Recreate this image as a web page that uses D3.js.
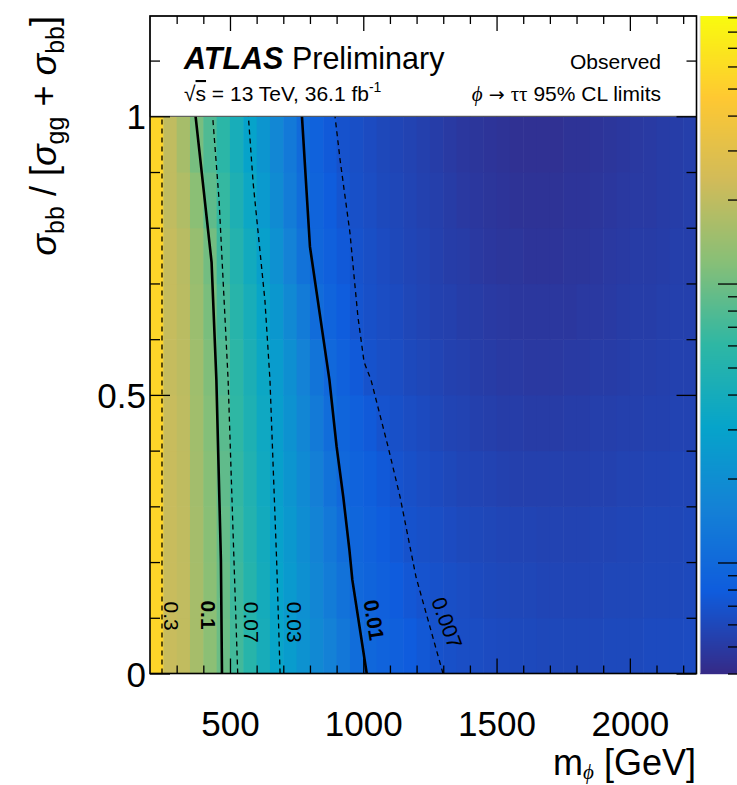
<!DOCTYPE html>
<html><head><meta charset="utf-8">
<script src="https://cdn.jsdelivr.net/npm/d3@7"></script>
<style>
html,body{margin:0;padding:0;background:#fff;}
svg{display:block;font-family:"Liberation Sans",Arial,Helvetica,sans-serif;}
</style>
</head><body>
<svg id="chart" width="737" height="785"></svg>
<script>
// ---------------- DATA ----------------
// mass bin centres (GeV), bin width 50 GeV
const massCenters = [225,275,325,375,425,475,525,575,625,675,725,775,825,875,925,975,1025,1075,1125,1175,1225,1275,1325,1375,1425,1475,1525,1575,1625,1675,1725,1775,1825,1875,1925,1975,2025,2075,2125,2175,2225];
// sigma_bb fraction bin centres (bin width 0.1)
const fractionCenters = [0.05,0.15,0.25,0.35,0.45,0.55,0.65,0.75,0.85,0.95];
// observed 95% CL limit values: one array per fraction row, one value per mass bin
const limitsF005 = [0.55,0.215,0.203,0.158,0.124,0.0963,0.0703,0.0538,0.0412,0.0316,0.0261,0.0218,0.0183,0.0154,0.0129,0.0108,0.00964,0.00903,0.00846,0.00792,0.00743,0.0069,0.0067,0.0065,0.0064,0.0063,0.0062,0.0061,0.0061,0.0060,0.0060,0.0060,0.0060,0.0060,0.0061,0.0061,0.0061,0.0062,0.0062,0.0062,0.0063];
const limitsF015 = [0.55,0.215,0.202,0.158,0.123,0.0946,0.0676,0.0519,0.0398,0.0305,0.0251,0.0207,0.0171,0.0141,0.0117,0.00986,0.00917,0.00853,0.00793,0.00738,0.0070,0.0068,0.0066,0.0064,0.0062,0.0061,0.0060,0.0059,0.0059,0.0058,0.0058,0.0058,0.0058,0.0058,0.0059,0.0059,0.0059,0.0060,0.0060,0.0060,0.0061];
const limitsF025 = [0.55,0.215,0.200,0.156,0.121,0.0918,0.0653,0.0500,0.0384,0.0296,0.0241,0.0197,0.0160,0.0131,0.0107,0.00948,0.00876,0.00809,0.00747,0.0069,0.0067,0.0065,0.0063,0.0061,0.0060,0.0059,0.0058,0.0057,0.0057,0.0056,0.0056,0.0056,0.0056,0.0057,0.0057,0.0058,0.0058,0.0059,0.0059,0.0059,0.0060];
const limitsF035 = [0.55,0.215,0.199,0.154,0.119,0.0881,0.0629,0.0482,0.0369,0.0286,0.0230,0.0185,0.0149,0.0119,0.00984,0.00902,0.00828,0.00759,0.0070,0.0067,0.0064,0.0062,0.0060,0.0058,0.0057,0.0056,0.0055,0.0054,0.0054,0.0054,0.0054,0.0054,0.0054,0.0055,0.0055,0.0056,0.0056,0.0057,0.0057,0.0058,0.0058];
const limitsF045 = [0.55,0.215,0.197,0.151,0.116,0.0841,0.0605,0.0463,0.0354,0.0274,0.0217,0.0172,0.0136,0.0107,0.00933,0.00845,0.00766,0.0070,0.0067,0.0064,0.0062,0.0059,0.0057,0.0056,0.0054,0.0053,0.0052,0.0052,0.0051,0.0051,0.0051,0.0052,0.0052,0.0053,0.0053,0.0054,0.0054,0.0055,0.0055,0.0056,0.0056];
const limitsF055 = [0.55,0.21,0.194,0.148,0.113,0.0795,0.0581,0.0443,0.0338,0.0261,0.0203,0.0158,0.0123,0.00978,0.00864,0.00763,0.0069,0.0066,0.0064,0.0061,0.0059,0.0057,0.0055,0.0054,0.0052,0.0051,0.0050,0.0050,0.0049,0.0049,0.0049,0.0050,0.0050,0.0051,0.0051,0.0052,0.0053,0.0053,0.0054,0.0055,0.0055];
const limitsF065 = [0.55,0.21,0.190,0.143,0.108,0.0731,0.0546,0.0415,0.0315,0.0239,0.0182,0.0139,0.0106,0.00906,0.00800,0.00706,0.0067,0.0064,0.0062,0.0059,0.0057,0.0055,0.0054,0.0052,0.0051,0.0050,0.0049,0.0048,0.0048,0.0048,0.0048,0.0048,0.0049,0.0049,0.0050,0.0051,0.0052,0.0052,0.0053,0.0054,0.0054];
const limitsF075 = [0.55,0.21,0.186,0.138,0.102,0.0678,0.0506,0.0378,0.0282,0.0211,0.0158,0.0119,0.00954,0.00850,0.00756,0.0069,0.0066,0.0063,0.0060,0.0058,0.0056,0.0054,0.0052,0.0051,0.0049,0.0048,0.0047,0.0047,0.0046,0.0046,0.0046,0.0047,0.0047,0.0048,0.0049,0.0050,0.0051,0.0051,0.0052,0.0053,0.0053];
const limitsF085 = [0.55,0.20,0.173,0.123,0.0878,0.0632,0.0461,0.0337,0.0251,0.0190,0.0143,0.0108,0.00915,0.00809,0.00715,0.0067,0.0064,0.0061,0.0059,0.0057,0.0055,0.0053,0.0051,0.0049,0.0048,0.0047,0.0046,0.0045,0.0045,0.0045,0.0045,0.0046,0.0046,0.0047,0.0048,0.0049,0.0050,0.0050,0.0051,0.0052,0.0053];
const limitsF095 = [0.55,0.20,0.158,0.106,0.0778,0.0572,0.0416,0.0303,0.0230,0.0175,0.0133,0.0101,0.00875,0.00762,0.0069,0.0066,0.0063,0.0060,0.0058,0.0056,0.0054,0.0052,0.0050,0.0048,0.0047,0.0046,0.0045,0.0044,0.0044,0.0044,0.0044,0.0045,0.0045,0.0046,0.0047,0.0048,0.0049,0.0050,0.0051,0.0052,0.0053];

// contour lines: [mass, fraction]
const contour0p3   = [[245,0],[245,1]];
const contour0p1   = [[470,0],[466,0.203],[449,0.527],[431,0.738],[371,1]];
const contour0p07  = [[529,0],[515,0.203],[493,0.527],[459,0.85],[435,1]];
const contour0p03  = [[688,0],[675,0.203],[650,0.527],[631,0.67],[587,0.88],[569,1]];
const contour0p01  = [[1013,0],[959,0.168],[948,0.222],[925,0.317],[900,0.407],[873,0.527],[800,0.766],[770,1]];
const contour0p007 = [[1299,0],[1198,0.173],[1138,0.317],[1093,0.407],[1029,0.527],[1003,0.559],[980,0.64],[950,0.791],[913,0.922],[894,1]];

// contour labels
const contourLabels = ["0.3","0.1","0.07","0.03","0.01","0.007"];
const contourLabelMass = [279, 418, 579, 740, 1040, 1314];
const contourLabelFrac = [0.103, 0.105, 0.092, 0.092, 0.096, 0.091];

// axis ticks
const xMajorTicks = [500,1000,1500,2000];
const xTickLabels = ["500","1000","1500","2000"];
const xMinorTicks = [300,400,600,700,800,900,1100,1200,1300,1400,1600,1700,1800,1900,2100,2200];
const yMajorTicks = [0,0.5,1];
const yTickLabels = ["0","0.5","1"];
const yMinorTicks = [0.1,0.2,0.3,0.4,0.6,0.7,0.8,0.9,1.1];
const zRange = [0.004, 0.91];
const zMinorTicks = [0.004,0.005,0.006,0.007,0.008,0.009,0.02,0.03,0.04,0.05,0.06,0.07,0.08,0.09,0.2,0.3,0.4,0.5,0.6,0.7,0.8,0.9];
const zMajorTicks = [0.01,0.1];

// ---------------- DRAWING ----------------
const svg = d3.select("#chart");
const fr = {l:150, r:696.5, t:16, b:673.5};
const x = d3.scaleLinear().domain([200,2250]).range([fr.l, fr.r]);
const y = d3.scaleLinear().domain([0,1.18]).range([fr.b, fr.t]);

const tScale = d3.scaleLog().domain(zRange).range([0,1]).clamp(true);
const bird = d3.scaleLinear()
  .domain([0,0.125,0.25,0.375,0.5,0.625,0.75,0.875,1])
  .range(["rgb(53,42,135)","rgb(15,92,221)","rgb(20,129,214)","rgb(6,164,202)","rgb(46,183,164)","rgb(135,191,119)","rgb(209,187,89)","rgb(254,200,50)","rgb(249,251,14)"])
  .interpolate(d3.interpolateRgb);
const color = v => bird(tScale(v));

svg.append("defs").append("clipPath").attr("id","clip")
  .append("rect").attr("x",fr.l).attr("y",fr.t).attr("width",fr.r-fr.l).attr("height",fr.b-fr.t);

// heat map
const rows = [limitsF005,limitsF015,limitsF025,limitsF035,limitsF045,limitsF055,limitsF065,limitsF075,limitsF085,limitsF095];
const cells = [];
rows.forEach((vals,ri)=>vals.forEach((v,ci)=>cells.push({m:massCenters[ci], f:fractionCenters[ri], v})));
const halfM = 25, halfF = 0.05;
svg.append("g").attr("clip-path","url(#clip)").selectAll("rect").data(cells).join("rect")
  .attr("x", d=>x(d.m-halfM))
  .attr("width", d=>x(d.m+halfM)-x(d.m-halfM)+0.6)
  .attr("y", d=>y(d.f+halfF))
  .attr("height", d=>y(d.f-halfF)-y(d.f+halfF)+0.6)
  .attr("fill", d=>color(d.v));

// contours
const line = d3.line().x(d=>x(d[0])).y(d=>y(d[1]));
const contours = [
  {pts:contour0p3, solid:false},
  {pts:contour0p1, solid:true},
  {pts:contour0p07, solid:false},
  {pts:contour0p03, solid:false},
  {pts:contour0p01, solid:true},
  {pts:contour0p007, solid:false}
];
const cg = svg.append("g").attr("clip-path","url(#clip)");
contours.forEach(c=>{
  cg.append("path").attr("d", line(c.pts)).attr("fill","none").attr("stroke","#000")
    .attr("stroke-width", c.solid?2.6:1.3)
    .attr("stroke-dasharray", c.solid?null:"5,4");
});

// contour labels
const labelRot = [90,90,90,90,81,70];
const labelBold = [false,true,false,false,true,false];
contourLabels.forEach((t,i)=>{
  svg.append("text")
    .attr("transform",`translate(${x(contourLabelMass[i])},${y(contourLabelFrac[i])}) rotate(${labelRot[i]})`)
    .attr("text-anchor","middle").attr("dy","0.35em")
    .attr("font-size",21).attr("font-weight",labelBold[i]?"bold":"normal")
    .attr("fill","#000").text(t);
});

// white legend box above fraction = 1
svg.append("rect").attr("x",fr.l).attr("y",fr.t).attr("width",fr.r-fr.l).attr("height",y(1)-fr.t)
  .attr("fill","#fff").attr("stroke","#444").attr("stroke-width",1);

// texts in box
const t1 = svg.append("text").attr("x",184).attr("y",69).attr("font-size",30.5);
t1.append("tspan").attr("font-weight","bold").attr("font-style","italic").text("ATLAS");
t1.append("tspan").text(" Preliminary");
svg.append("text").attr("x",661).attr("y",69).attr("text-anchor","end").attr("font-size",21).text("Observed");
const t2 = svg.append("text").attr("x",184).attr("y",101).attr("font-size",21);
t2.append("tspan").text("√");
t2.append("tspan").style("text-decoration","overline").text("s");
t2.append("tspan").text(" = 13 TeV, 36.1 fb");
t2.append("tspan").attr("font-size",14).attr("dy",-9).text("-1");
const t3 = svg.append("text").attr("x",661).attr("y",101).attr("text-anchor","end").attr("font-size",21);
t3.append("tspan").attr("font-style","italic").attr("font-family","Liberation Serif, DejaVu Serif, serif").text("ϕ");
t3.append("tspan").attr("font-family","DejaVu Sans, sans-serif").attr("font-size",19).text(" → ");
t3.append("tspan").attr("font-family","Liberation Serif, serif").text("ττ");
t3.append("tspan").text(" 95% CL limits");

// axes
function styleAxis(g){ g.select(".domain").remove(); g.selectAll("line").attr("stroke","#000").attr("stroke-width",1.3); }
svg.append("g").attr("transform",`translate(0,${fr.b})`)
  .call(d3.axisBottom(x).tickValues(xMajorTicks).tickSize(-15).tickFormat((d,i)=>xTickLabels[i]))
  .call(styleAxis)
  .call(g=>g.selectAll("text").attr("y",62.5).attr("dy",null).attr("font-size",35)
        .attr("font-family","Liberation Sans, Arial, sans-serif").attr("fill","#000"));
svg.append("g").attr("transform",`translate(0,${fr.b})`)
  .call(d3.axisBottom(x).tickValues(xMinorTicks).tickSize(-8).tickFormat("")).call(styleAxis);
svg.append("g").attr("transform",`translate(0,${fr.t})`)
  .call(d3.axisTop(x).tickValues(xMajorTicks).tickSize(-15).tickFormat("")).call(styleAxis);
svg.append("g").attr("transform",`translate(0,${fr.t})`)
  .call(d3.axisTop(x).tickValues(xMinorTicks).tickSize(-8).tickFormat("")).call(styleAxis);

svg.append("g").attr("transform",`translate(${fr.l},0)`)
  .call(d3.axisLeft(y).tickValues(yMajorTicks).tickSize(-20).tickPadding(4).tickFormat((d,i)=>yTickLabels[i]))
  .call(styleAxis)
  .call(g=>g.selectAll("text").attr("font-size",35).attr("dy","0.36em")
        .attr("font-family","Liberation Sans, Arial, sans-serif").attr("fill","#000"));
svg.append("g").attr("transform",`translate(${fr.l},0)`)
  .call(d3.axisLeft(y).tickValues(yMinorTicks).tickSize(-10).tickFormat("")).call(styleAxis);
svg.append("g").attr("transform",`translate(${fr.r},0)`)
  .call(d3.axisRight(y).tickValues(yMajorTicks).tickSize(-20).tickFormat("")).call(styleAxis);
svg.append("g").attr("transform",`translate(${fr.r},0)`)
  .call(d3.axisRight(y).tickValues(yMinorTicks).tickSize(-10).tickFormat("")).call(styleAxis);

// frame
svg.append("rect").attr("x",fr.l).attr("y",fr.t).attr("width",fr.r-fr.l).attr("height",fr.b-fr.t)
  .attr("fill","none").attr("stroke","#000").attr("stroke-width",1.6);

// axis titles
const xt = svg.append("text").attr("x",696).attr("y",775).attr("text-anchor","end").attr("font-size",36);
xt.append("tspan").text("m");
xt.append("tspan").attr("font-size",21).attr("dy",4).attr("font-style","italic").attr("font-family","Liberation Serif, DejaVu Serif, serif").text("ϕ");
xt.append("tspan").attr("dy",-4).text(" [GeV]");

const yt = svg.append("text").attr("transform",`translate(56,${fr.t}) rotate(-90)`).attr("text-anchor","end").attr("font-size",36);
yt.append("tspan").attr("font-style","italic").text("σ");
yt.append("tspan").attr("font-size",25).attr("dy",8).text("bb");
yt.append("tspan").attr("dy",-8).text(" / [");
yt.append("tspan").attr("font-style","italic").text("σ");
yt.append("tspan").attr("font-size",25).attr("dy",8).text("gg");
yt.append("tspan").attr("dy",-8).text(" + ");
yt.append("tspan").attr("font-style","italic").text("σ");
yt.append("tspan").attr("font-size",25).attr("dy",8).text("bb");
yt.append("tspan").attr("dy",-8).text("]");

// colour bar (palette axis)
const cb = {l:700, r:745};
const zY = d3.scaleLog().domain(zRange).range([fr.b, fr.t]);
const cbRows = d3.range(Math.floor(fr.t), Math.ceil(fr.b));
svg.append("g").selectAll("rect").data(cbRows).join("rect")
  .attr("x",cb.l).attr("width",cb.r-cb.l)
  .attr("y",d=>d).attr("height",1.2)
  .attr("fill",d=>color(zY.invert(Math.min(d+0.5, fr.b))));
svg.append("line").attr("x1",cb.l).attr("x2",cb.l).attr("y1",fr.t).attr("y2",fr.b).attr("stroke","#ddd").attr("stroke-width",1);
svg.append("g").attr("transform",`translate(${cb.r},0)`)
  .call(d3.axisLeft(zY).tickValues(zMinorTicks).tickSize(17).tickFormat("")).call(styleAxis);
svg.append("g").attr("transform",`translate(${cb.r},0)`)
  .call(d3.axisLeft(zY).tickValues(zMajorTicks).tickSize(27).tickFormat("")).call(styleAxis);
</script>
</body></html>
